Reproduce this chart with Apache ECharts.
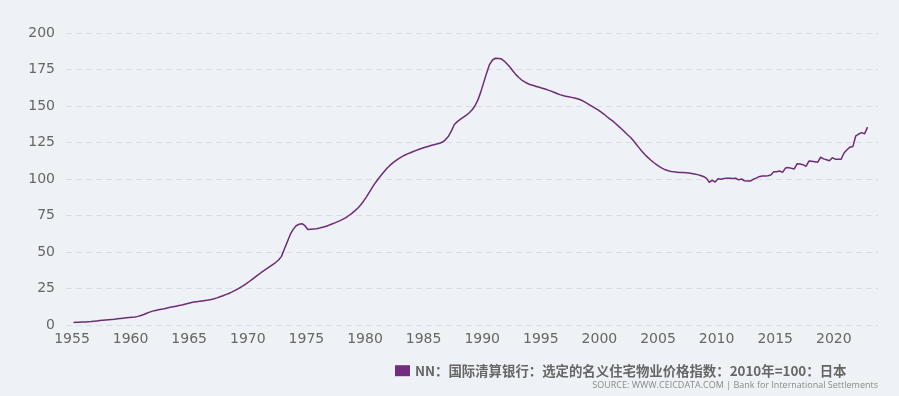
<!DOCTYPE html>
<html>
<head>
<meta charset="utf-8">
<script src="https://cdn.jsdelivr.net/npm/echarts@6/dist/echarts.min.js"></script>
<style>
html,body{margin:0;padding:0;background:#eef2f6;}
#chart{width:899px;height:396px;}
</style>
</head>
<body>
<div id="chart"></div>
<script>
// Quarterly index values (2010 = 100), Q1..Q4 per year, starting 1955Q1
const firstYear = 1955;
const values1955_1969 = [
  1.7, 1.8, 1.9, 2.0,
  2.1, 2.3, 2.4, 2.6,
  2.8, 3.0, 3.2, 3.4,
  3.6, 3.8, 4.0, 4.3,
  4.5, 4.7, 4.9, 5.1,
  5.3, 5.5, 5.9, 6.5,
  7.2, 8.0, 8.8, 9.5,
  10.0, 10.4, 10.8, 11.2,
  11.7, 12.1, 12.5, 12.9,
  13.3, 13.7, 14.2, 14.7,
  15.2, 15.7, 16.0, 16.2,
  16.5, 16.8, 17.1, 17.5,
  18.0, 18.6, 19.3, 20.0,
  20.8, 21.6, 22.5, 23.5,
  24.6, 25.8, 27.0, 28.3
];
const values1970_1984 = [
  29.8, 31.3, 32.8, 34.3,
  35.8, 37.2, 38.6, 40.0,
  41.4, 42.8, 44.5, 47.0,
  52.0, 57.0, 62.0, 65.5,
  68.0, 69.0, 69.4, 68.0,
  65.4, 65.6, 65.8, 66.0,
  66.4, 66.9, 67.5, 68.2,
  69.0, 69.8, 70.6, 71.5,
  72.5, 73.6, 75.0, 76.5,
  78.2, 80.0, 82.2, 84.8,
  87.8, 91.0, 94.3, 97.3,
  100.0, 102.6, 105.0, 107.3,
  109.3, 111.0, 112.6, 114.0,
  115.2, 116.3, 117.2, 118.0,
  118.8, 119.6, 120.4, 121.1
];
const values1985_1999 = [
  121.7, 122.3, 122.9, 123.5,
  124.0, 124.5, 125.3, 127.0,
  129.3, 133.0, 137.3, 139.3,
  140.8, 142.2, 143.6, 145.2,
  147.3, 150.0, 154.0, 159.5,
  166.0, 172.5, 178.4, 181.5,
  182.7, 182.6, 182.3, 180.8,
  178.8, 176.5, 174.0, 171.5,
  169.5, 167.8, 166.5, 165.4,
  164.6, 164.0, 163.4, 162.8,
  162.2, 161.6, 160.9, 160.2,
  159.4, 158.6, 157.8, 157.2,
  156.7, 156.3, 155.9, 155.5,
  155.0, 154.3, 153.3, 152.2,
  151.0, 149.8, 148.5, 147.4
];
const values2000_2012 = [
  146.0, 144.5, 142.8, 141.2,
  139.8, 138.0, 136.2, 134.4,
  132.5, 130.5, 128.8, 126.5,
  124.0, 121.5, 119.0, 116.8,
  114.8, 113.0, 111.3, 109.8,
  108.5, 107.3, 106.3, 105.6,
  105.2, 104.9, 104.7, 104.5,
  104.4, 104.3, 104.1, 103.8,
  103.4, 103.0, 102.4, 101.7,
  100.6, 97.7, 99.2, 97.9,
  100.1, 99.8, 100.3, 100.5,
  100.5, 100.4, 100.5, 99.4,
  100.0, 98.8, 98.6, 98.6
];
const values2013_2022 = [
  99.8, 100.6, 101.6, 102.0,
  102.0, 102.3, 102.7, 105.0,
  105.0, 105.5, 104.5, 107.5,
  107.8, 107.3, 106.9, 110.5,
  110.2, 109.8, 108.7, 112.3,
  112.1, 111.8, 111.5, 114.9,
  113.8, 113.2, 112.5, 114.6,
  113.6, 113.5, 113.6, 117.8,
  120.0, 121.8, 122.2, 129.6,
  130.8, 131.8, 130.9, 135.5
];
const yearTicks = [1955,1960,1965,1970,1975,1980,1985,1990,1995,2000,2005,2010,2015,2020];
const yTicks = [0,25,50,75,100,125,150,175,200];
const seriesName = 'NN：国际清算银行：选定的名义住宅物业价格指数：2010年=100：日本';
const sourceText = 'SOURCE: WWW.CEICDATA.COM | Bank for International Settlements';

const allValues = [].concat(values1955_1969, values1970_1984, values1985_1999, values2000_2012, values2013_2022);
// each quarter placed at its mid-point in decimal years
const seriesData = allValues.map((v, i) => [firstYear + i * 0.25 + 0.125, v]);

const chart = echarts.init(document.getElementById('chart'), null, {renderer: 'canvas'});
chart.setOption({
  animation: false,
  backgroundColor: '#eef2f6',
  textStyle: {fontFamily: 'DejaVu Sans'},
  grid: {left: 66, right: 21, top: 33, bottom: 71, containLabel: false},
  xAxis: {
    type: 'value',
    min: 1954.49,
    max: 2023.77,
    axisLine: {show: false},
    axisTick: {show: false},
    splitLine: {show: false},
    axisLabel: {
      customValues: yearTicks,
      formatter: v => String(v),
      color: '#666',
      fontSize: 14,
      fontFamily: 'DejaVu Sans',
      margin: 7
    }
  },
  yAxis: {
    type: 'value',
    min: yTicks[0],
    max: yTicks[yTicks.length - 1],
    interval: 25,
    axisLine: {show: false},
    axisTick: {show: false},
    axisLabel: {color: '#666', fontSize: 14, fontFamily: 'DejaVu Sans', margin: 11},
    splitLine: {lineStyle: {color: '#d9dee5', type: [6, 4], width: 1}}
  },
  legend: {
    left: 395,
    top: 364,
    padding: 0,
    itemWidth: 15,
    itemHeight: 11,
    itemGap: 4,
    icon: 'rect',
    textStyle: {color: '#666', fontSize: 13.4, fontWeight: 'bold', fontFamily: 'Noto Sans CJK SC'},
    data: [seriesName]
  },
  graphic: [{
    type: 'text',
    right: 21,
    top: 381,
    style: {text: sourceText, fill: '#8a8a8a', fontSize: 9, fontFamily: 'Open Sans'}
  }],
  series: [{
    name: seriesName,
    type: 'line',
    data: seriesData,
    showSymbol: false,
    smooth: false,
    color: '#742c80',
    lineStyle: {width: 1.5, color: '#6e2c78'}
  }]
});
</script>
</body>
</html>
